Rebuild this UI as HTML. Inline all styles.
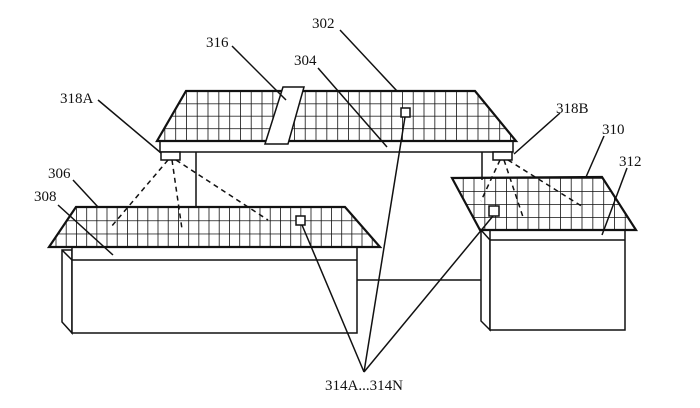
<!DOCTYPE html>
<html><head><meta charset="utf-8"><style>html,body{margin:0;padding:0;background:#fff}svg{display:block}text{font-family:"Liberation Serif",serif;font-size:15px;fill:#111}</style></head>
<body>
<svg width="700" height="408" viewBox="0 0 700 408" xmlns="http://www.w3.org/2000/svg">
<defs>
<pattern id="g1" x="186" y="91" width="10.8" height="12.4" patternUnits="userSpaceOnUse"><path d="M0 0V12.4M0 0H10.8" stroke="#111" stroke-width="1.6" fill="none"/></pattern>
<pattern id="g2" x="76" y="207" width="10.2" height="13.3" patternUnits="userSpaceOnUse"><path d="M0 0V13.3M0 0H10.2" stroke="#111" stroke-width="1.6" fill="none"/></pattern>
<pattern id="g3" x="452" y="178" width="10.8" height="13" patternUnits="userSpaceOnUse"><path d="M0 0V13M0 0H10.8" stroke="#111" stroke-width="1.6" fill="none"/></pattern>
</defs>
<g stroke="#111" fill="none" stroke-width="1.5">
<rect x="160" y="141" width="353" height="11" fill="#fff"/>
<line x1="196" y1="152" x2="196" y2="207"/>
<line x1="482" y1="152" x2="482" y2="180"/>
<polygon points="186,91 475,91 516,141 157,141" fill="url(#g1)" stroke-width="2.2"/>
<polygon points="283,87 304,87 288,144 265,144" fill="#fff"/>
<rect x="401" y="108" width="9" height="9" fill="#fff"/>
<rect x="161" y="152" width="19" height="8" fill="#fff"/>
<rect x="493" y="152" width="19" height="8" fill="#fff"/>
<line x1="357" y1="280" x2="481" y2="280"/>
<polygon points="62,250 72,250 72,333 62,322" fill="#fff"/>
<rect x="72" y="247" width="285" height="86" fill="#fff"/>
<line x1="72" y1="260" x2="357" y2="260"/>
<line x1="62" y1="250" x2="72" y2="260"/>
<polygon points="76,207 345,207 380,247 49,247" fill="url(#g2)" stroke-width="2.2"/>
<rect x="296" y="216" width="9" height="9" fill="#fff"/>
<polygon points="481,230 490,240 490,330 481,321" fill="#fff"/>
<rect x="490" y="230" width="135" height="100" fill="#fff"/>
<line x1="490" y1="240" x2="625" y2="240"/>
<polygon points="452,178 602,177 636,230 480,230" fill="url(#g3)" stroke-width="2.2"/>
<rect x="489" y="206" width="10" height="10" fill="#fff"/>
<g stroke-dasharray="5,4">
<line x1="168" y1="160" x2="111" y2="227"/><line x1="172" y1="160" x2="182" y2="229"/><line x1="176" y1="160" x2="268" y2="220"/>
<line x1="500" y1="160" x2="481" y2="201"/><line x1="504" y1="160" x2="523" y2="217"/><line x1="508" y1="160" x2="583" y2="207"/>
</g>
<line x1="364" y1="372" x2="405" y2="117"/>
<line x1="364" y1="372" x2="302" y2="225"/>
<line x1="364" y1="372" x2="493" y2="216"/>
<line x1="340" y1="30" x2="397" y2="91"/>
<line x1="232" y1="46" x2="286" y2="100"/>
<line x1="318" y1="68" x2="387" y2="147"/>
<line x1="98" y1="100" x2="161" y2="153"/>
<line x1="560" y1="113" x2="514" y2="154"/>
<line x1="604" y1="136" x2="586" y2="177"/>
<line x1="627" y1="168" x2="602" y2="235"/>
<line x1="73" y1="180" x2="98" y2="207"/>
<line x1="58" y1="205" x2="113" y2="255"/>
</g>
<text x="312" y="28">302</text>
<text x="206" y="47">316</text>
<text x="294" y="65">304</text>
<text x="60" y="103">318A</text>
<text x="556" y="113">318B</text>
<text x="602" y="134">310</text>
<text x="619" y="166">312</text>
<text x="48" y="178">306</text>
<text x="34" y="201">308</text>
<text x="325" y="390">314A...314N</text>
</svg>
</body></html>
